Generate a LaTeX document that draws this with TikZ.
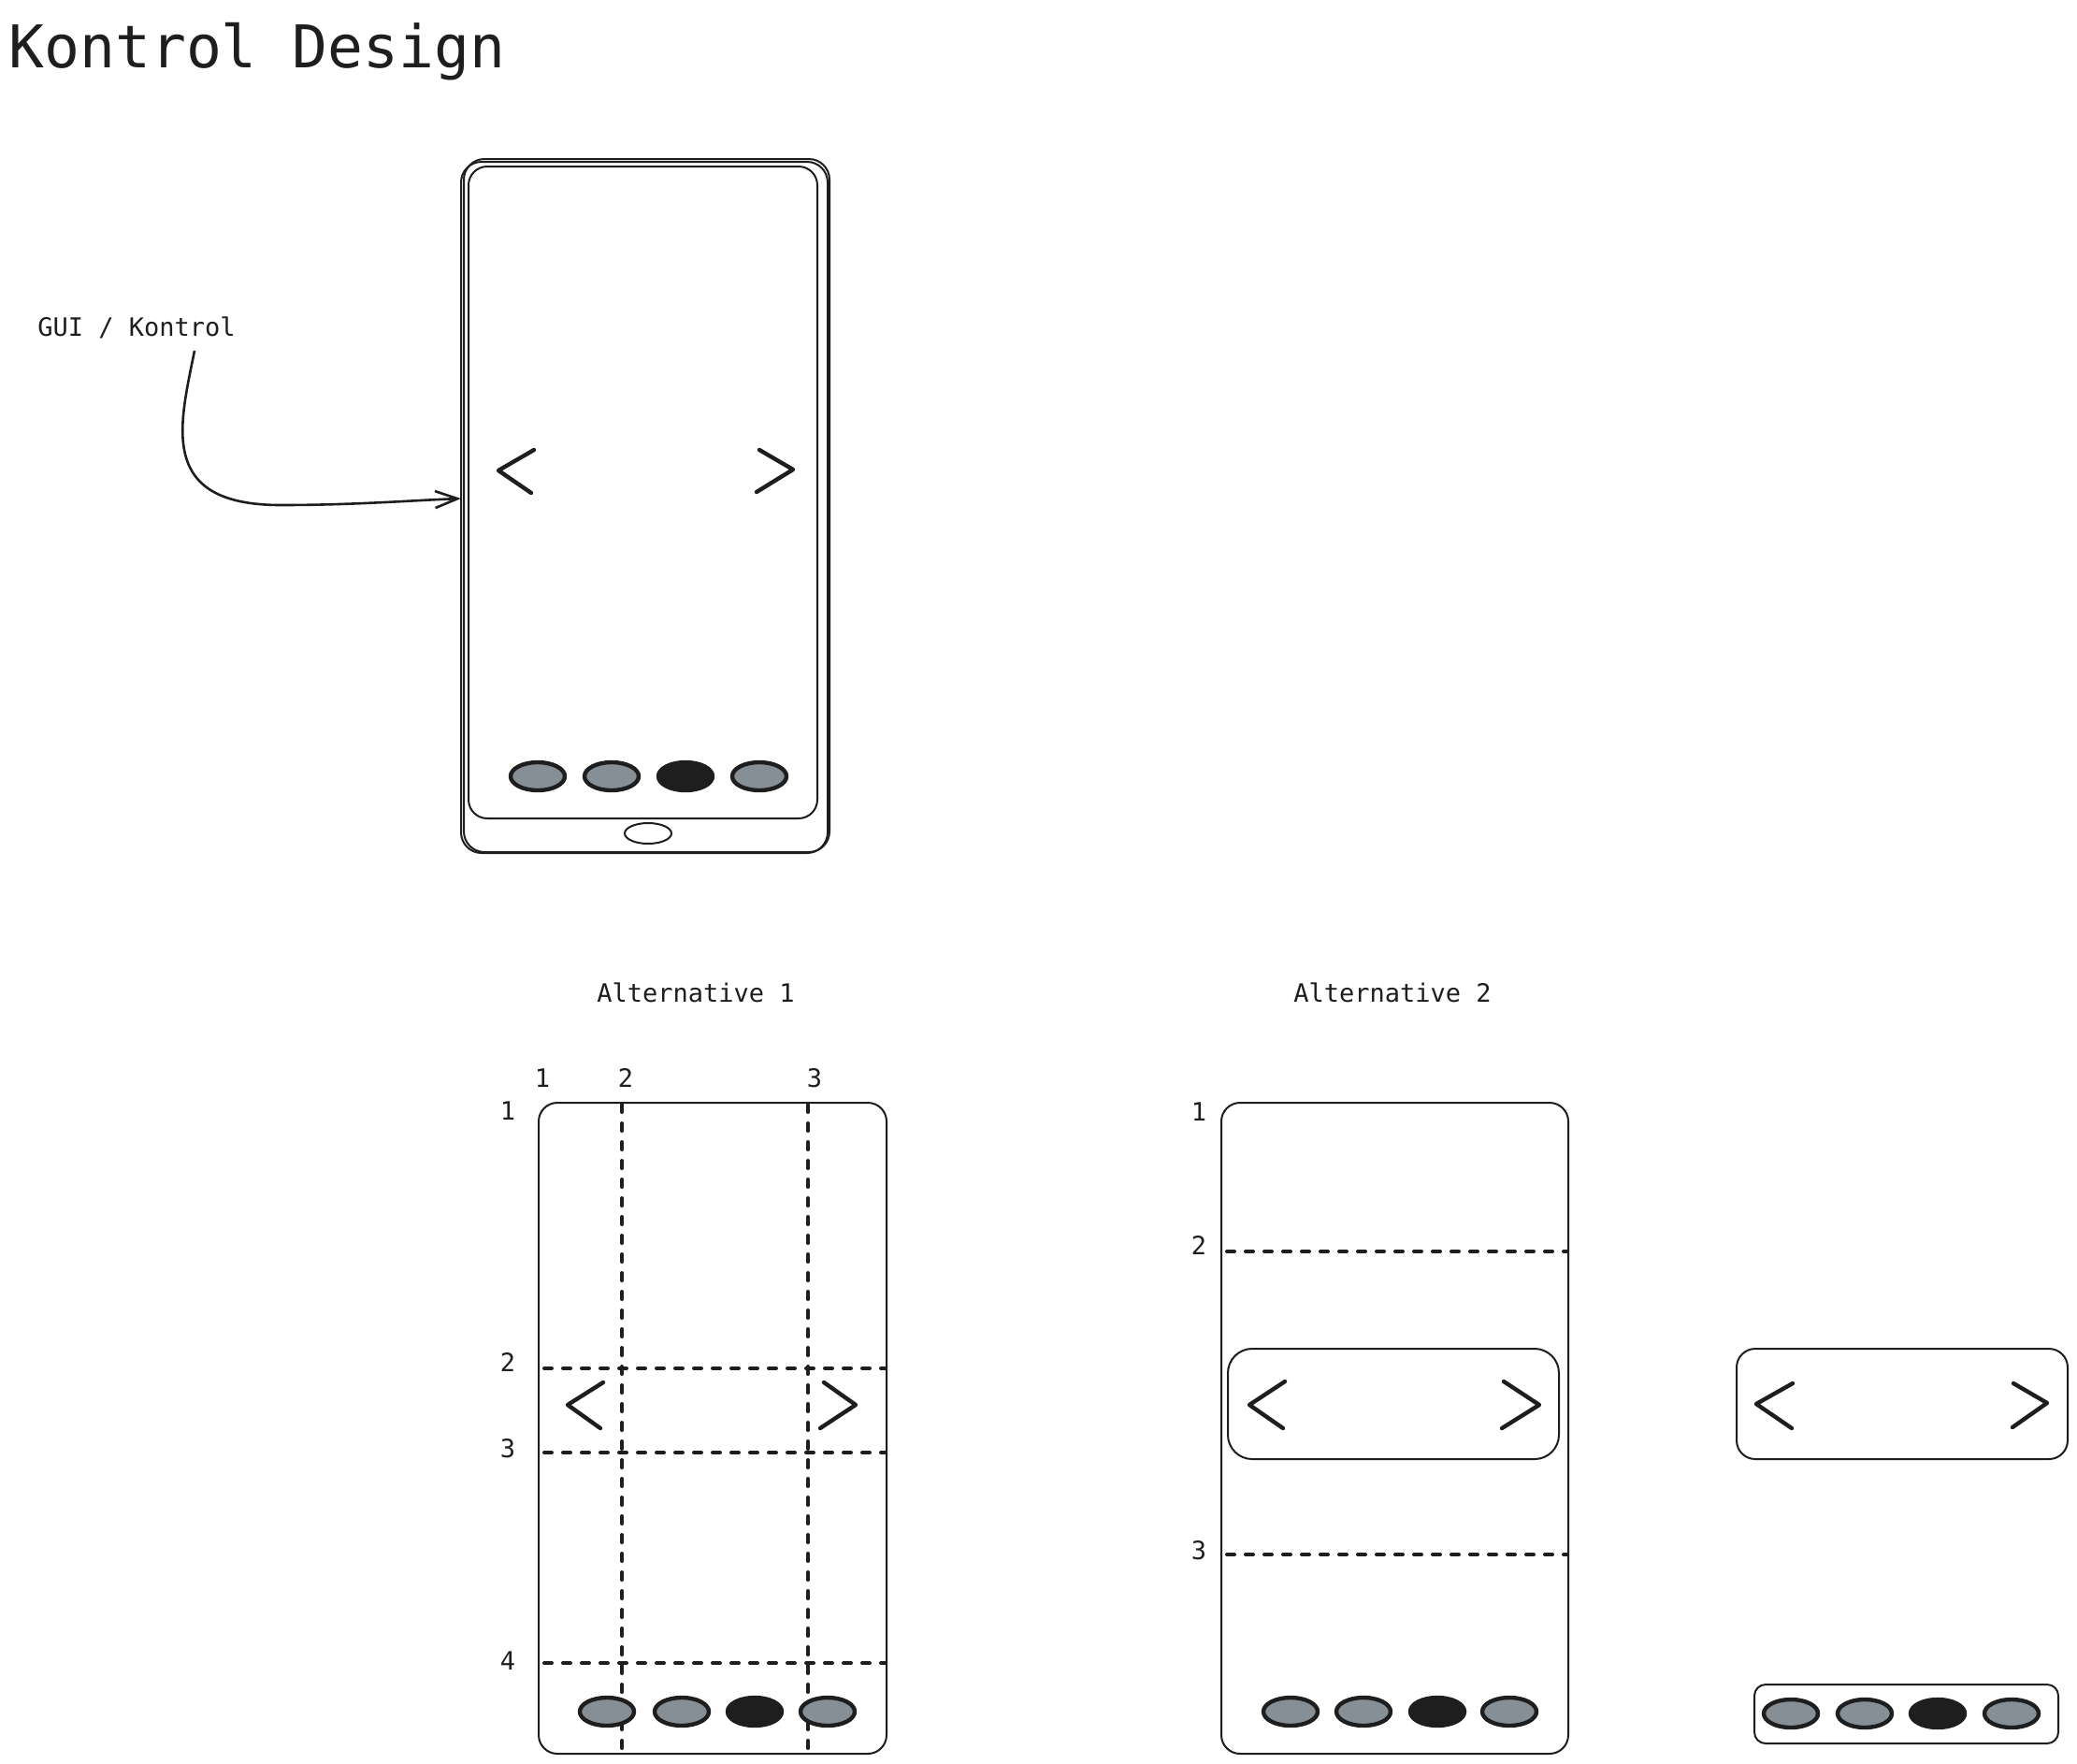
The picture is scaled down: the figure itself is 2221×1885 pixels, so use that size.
\documentclass[tikz,border=0pt]{standalone}
\usepackage{fontspec}
\setmonofont{DejaVu Sans Mono}
\usetikzlibrary{arrows.meta}
\definecolor{ink}{HTML}{1E1E1E}
\definecolor{dotgray}{HTML}{868E96}
\tikzset{
  lbl/.style={font=\ttfamily\fontsize{13.5}{16}\selectfont, text=ink, inner sep=0pt},
  titlelbl/.style={font=\ttfamily\fontsize{31.5}{36}\selectfont, text=ink, inner sep=0pt},
  frame/.style={draw=ink, line width=1pt, rounded corners=10pt},
  chev/.style={draw=ink, line width=2.2pt, line cap=round, line join=round},
  dotg/.style={draw=ink, fill=dotgray, line width=2.2pt},
  dotk/.style={draw=ink, fill=ink, line width=2.2pt},
  gridline/.style={draw=ink, line width=2pt, line cap=round, dash pattern=on 4pt off 6pt},
  conn/.style={draw=ink, line width=1.3pt, -{Straight Barb[length=12pt,width=9pt]}},
}
\begin{document}
\begin{tikzpicture}[x=0.5pt,y=-0.5pt]
\useasboundingbox (0,0) rectangle (2221,1885);
\fill[white] (0,0) rectangle (2221,1885);

% title
\node[titlelbl, anchor=base west] (title) at (9,72) {Kontrol Design};

% label and arrow
\node[lbl, anchor=base west] (gui) at (40,359) {GUI / Kontrol};
\coordinate (arrS) at (208,375);
\coordinate (phoneL) at (493,533);
\draw[conn] (arrS) .. controls (192,455) and (168,540) .. (300,540) .. controls (380,540) and (440,535) .. (phoneL);

% phone
\draw[frame, rounded corners=11pt] (493,173) rectangle (885,912);
\draw[frame, rounded corners=11pt] (496,170) rectangle (887,911);
\draw[frame] (501,178) rectangle (874,875);
\draw[draw=ink, line width=1pt] (693,891) ellipse [x radius=12.5pt, y radius=5.5pt];
\draw[chev] (571,481) -- (533,503) -- (568,527);
\draw[chev] (812,481) -- (848,502) -- (809,526);
\foreach \cx/\st in {575/dotg,654/dotg,733/dotk,812/dotg}
  \draw[\st] (\cx,830) ellipse [x radius=14.5pt, y radius=7.5pt];

% Alternative 1
\node[lbl, anchor=base] (alt1) at (744,1071) {Alternative 1};
\node[lbl, anchor=base] (c1) at (580,1162) {1};
\node[lbl, anchor=base] (c2) at (669,1162) {2};
\node[lbl, anchor=base] (c3) at (871,1162) {3};
\node[lbl, anchor=base] (r1) at (543,1197) {1};
\node[lbl, anchor=base] (r2) at (543,1466) {2};
\node[lbl, anchor=base] (r3) at (543,1558) {3};
\node[lbl, anchor=base] (r4) at (543,1785) {4};
\draw[frame] (576,1179) rectangle (948,1875);
\draw[gridline] (665,1181) -- (665,1873);
\draw[gridline] (864,1181) -- (864,1873);
\draw[gridline] (582,1463) -- (947,1463);
\draw[gridline] (582,1553) -- (947,1553);
\draw[gridline] (582,1778) -- (947,1778);
\draw[chev] (645,1478) -- (607,1502) -- (642,1527);
\draw[chev] (881,1478) -- (915,1502) -- (877,1527);
\foreach \cx/\st in {649/dotg,729/dotg,807/dotk,885/dotg}
  \draw[\st] (\cx,1830) ellipse [x radius=14.5pt, y radius=7.5pt];

% Alternative 2
\node[lbl, anchor=base] (alt2) at (1489,1071) {Alternative 2};
\node[lbl, anchor=base] (s1) at (1282,1198) {1};
\node[lbl, anchor=base] (s2) at (1282,1341) {2};
\node[lbl, anchor=base] (s3) at (1282,1667) {3};
\draw[frame] (1306,1179) rectangle (1677,1875);
\draw[gridline] (1312,1338) -- (1676,1338);
\draw[gridline] (1312,1662) -- (1676,1662);
\draw[frame, rounded corners=13pt] (1313,1442) rectangle (1667,1560);
\draw[chev] (1374,1477) -- (1336,1502) -- (1372,1527);
\draw[chev] (1608,1477) -- (1646,1502) -- (1606,1527);
\foreach \cx/\st in {1380/dotg,1458/dotg,1537/dotk,1614/dotg}
  \draw[\st] (\cx,1830) ellipse [x radius=14.5pt, y radius=7.5pt];

% detached components
\draw[frame] (1857,1442) rectangle (2211,1560);
\draw[chev] (1917,1479) -- (1878,1501) -- (1916,1527);
\draw[chev] (2153,1479) -- (2189,1500) -- (2152,1526);
\draw[frame, rounded corners=6pt] (1876,1801) rectangle (2201,1864);
\foreach \cx/\st in {1915/dotg,1994/dotg,2072/dotk,2151/dotg}
  \draw[\st] (\cx,1832) ellipse [x radius=14.5pt, y radius=7.5pt];
\end{tikzpicture}
\end{document}
